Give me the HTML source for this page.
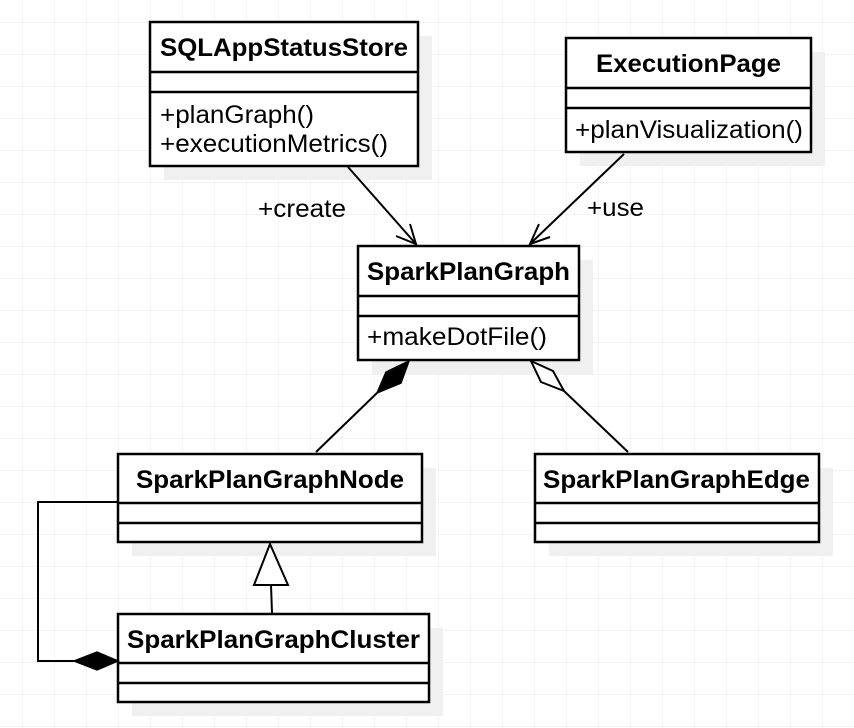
<!DOCTYPE html>
<html><head><meta charset="utf-8"><style>
html,body{margin:0;padding:0;background:#fff;}
svg{display:block;}
text{font-family:"Liberation Sans",Arial,sans-serif;fill:#000;}
.t{font-weight:bold;font-size:25px;}
.m{font-size:25px;}
</style></head><body>
<svg width="854" height="728" viewBox="0 0 854 728" xmlns="http://www.w3.org/2000/svg">
<defs>
<pattern id="g" x="22" y="22" width="32" height="32" patternUnits="userSpaceOnUse">
<path d="M0 0H32M0 0V32" stroke="#ececec" stroke-width="1.2" fill="none"/>
</pattern>
</defs>
<rect width="854" height="728" fill="#fff"/>
<rect width="854" height="728" fill="url(#g)"/>

<g fill="#f0f0f0">
<rect x="164" y="36" width="268" height="144"/>
<rect x="580" y="52" width="245" height="114"/>
<rect x="372" y="260" width="221" height="114"/>
<rect x="132" y="468" width="304" height="88"/>
<rect x="549" y="468" width="284" height="88"/>
<rect x="132" y="628" width="311" height="88"/>
</g>

<g fill="#fff" stroke="#000" stroke-width="2.5">
<rect x="150" y="22" width="268" height="144"/>
<line x1="150" y1="72" x2="418" y2="72"/><line x1="150" y1="92" x2="418" y2="92"/>
<rect x="566" y="38" width="245" height="114"/>
<line x1="566" y1="88" x2="811" y2="88"/><line x1="566" y1="108" x2="811" y2="108"/>
<rect x="358" y="246" width="221" height="114"/>
<line x1="358" y1="296" x2="579" y2="296"/><line x1="358" y1="316" x2="579" y2="316"/>
<rect x="118" y="454" width="304" height="88"/>
<line x1="118" y1="503" x2="422" y2="503"/><line x1="118" y1="523" x2="422" y2="523"/>
<rect x="535" y="454" width="284" height="88"/>
<line x1="535" y1="503" x2="819" y2="503"/><line x1="535" y1="523" x2="819" y2="523"/>
<rect x="118" y="614" width="311" height="88"/>
<line x1="118" y1="663" x2="429" y2="663"/><line x1="118" y1="683" x2="429" y2="683"/>
</g>

<text class="t" x="160" y="56" textLength="248" lengthAdjust="spacingAndGlyphs">SQLAppStatusStore</text>
<text class="m" x="160" y="123" textLength="154" lengthAdjust="spacingAndGlyphs">+planGraph()</text>
<text class="m" x="160" y="152" textLength="228" lengthAdjust="spacingAndGlyphs">+executionMetrics()</text>
<text class="t" x="596" y="72" textLength="185" lengthAdjust="spacingAndGlyphs">ExecutionPage</text>
<text class="m" x="575" y="138" textLength="228" lengthAdjust="spacingAndGlyphs">+planVisualization()</text>
<text class="t" x="367" y="280" textLength="203" lengthAdjust="spacingAndGlyphs">SparkPlanGraph</text>
<text class="m" x="367" y="345" textLength="180" lengthAdjust="spacingAndGlyphs">+makeDotFile()</text>
<text class="t" x="136" y="488" textLength="268" lengthAdjust="spacingAndGlyphs">SparkPlanGraphNode</text>
<text class="t" x="543" y="488" textLength="267" lengthAdjust="spacingAndGlyphs">SparkPlanGraphEdge</text>
<text class="t" x="127" y="648" textLength="293" lengthAdjust="spacingAndGlyphs">SparkPlanGraphCluster</text>
<text class="m" x="258" y="217" textLength="88" lengthAdjust="spacingAndGlyphs">+create</text>
<text class="m" x="587" y="216" textLength="57" lengthAdjust="spacingAndGlyphs">+use</text>

<g stroke="#000" stroke-width="2" fill="none">
<line x1="348" y1="167" x2="416" y2="244"/>
<polyline points="396,236 416,244 410,224"/>
<line x1="624" y1="154" x2="530" y2="244"/>
<polyline points="550,237 530,244 539,224"/>
<line x1="377" y1="393" x2="316" y2="452"/>
<line x1="564" y1="391" x2="628" y2="452"/>
<polygon points="531,361 553,371 564,391 541,382" fill="#fff"/>
<line x1="271" y1="585" x2="272" y2="613"/>
<polygon points="270,544 254,585 288,585" fill="#fff"/>
<polyline points="118,502 38,502 38,661 74,661"/>
</g>
<polygon points="409,361 401,383 377,393 386,372" fill="#000" stroke="#000" stroke-width="1.5"/>
<polygon points="118,661 97,652 74,661 97,670" fill="#000" stroke="#000" stroke-width="1.5"/>
</svg>
</body></html>
